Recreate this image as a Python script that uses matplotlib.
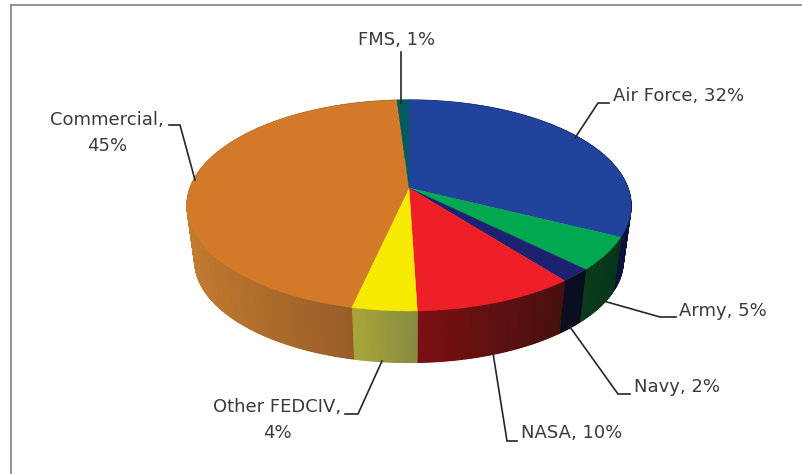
import matplotlib
matplotlib.use('Agg')
import matplotlib.pyplot as plt
import numpy as np
from matplotlib.collections import PolyCollection
from matplotlib.colors import to_rgb

categories = ['Air Force', 'Army', 'Navy', 'NASA', 'Other FEDCIV', 'Commercial', 'FMS']
shares = [32, 5, 2, 10, 4, 45, 1]

top_colors = ['#21439b', '#00a84f', '#1c2270', '#ef1f27', '#f5ea00', '#d27a29', '#05595f']
side_right = ['#0c1238', '#06351a', '#0a0e20', '#47100e', '#878a40', '#8c5526', '#05595f']
side_left = ['#1c2a66', '#0a3d1c', '#0a0e20', '#7c1013', '#a9a638', '#c27a30', '#05595f']

# pie geometry in pixels
APEX_X, APEX_Y = 409, 188
A, B, K = 219, 102.6, 0.166
BOTTOM_SCALE, BOTTOM_Y = 0.965, 243.8


def rim(theta, scale=1.0, cy=APEX_Y):
    # clockwise from twelve o'clock, tilted circle with perspective
    x = np.sin(theta)
    y = -np.cos(theta)
    d = 1 - K * y
    return APEX_X + scale * A * x / d, cy + scale * B * y / d


def mix(c1, c2, t):
    c1, c2 = np.array(to_rgb(c1)), np.array(to_rgb(c2))
    return c1 + (c2 - c1) * t


fig = plt.figure(figsize=(8.02, 4.74), dpi=100)
ax = fig.add_axes([0, 0, 1, 1])
ax.set_xlim(0, 802)
ax.set_ylim(474, 0)
ax.axis('off')

# chart border
ax.plot([11, 11], [474, 5], color='#8a8a8a', lw=1.3)
ax.plot([11, 802], [5, 5], color='#8a8a8a', lw=1.3)

edges = np.cumsum([0] + shares) / sum(shares) * 2 * np.pi

# sides first, the top faces cover the back part
for i in range(len(shares)):
    th = np.linspace(edges[i], edges[i + 1], max(int(shares[i] * 5), 4))
    tx, ty = rim(th)
    bx, by = rim(th, BOTTOM_SCALE, BOTTOM_Y)
    x0, x1 = tx.min(), tx.max()
    # solid base so the seams between the quads do not show
    ax.fill(np.r_[tx, bx[::-1]], np.r_[ty, by[::-1]], color=mix(side_left[i], side_right[i], 0.5),
            lw=0, zorder=2)
    quads = []
    cols = []
    for j in range(len(th) - 1):
        quads.append([(tx[j], ty[j]), (tx[j + 1], ty[j + 1]),
                      (bx[j + 1], by[j + 1]), (bx[j], by[j])])
        cols.append(mix(side_left[i], side_right[i], ((tx[j] + tx[j + 1]) / 2 - x0) / (x1 - x0)))
    ax.add_collection(PolyCollection(quads, facecolors=cols, edgecolors=cols, linewidths=0.8, zorder=2))

for i in range(len(shares)):
    th = np.linspace(edges[i], edges[i + 1], max(int(shares[i] * 6), 6))
    tx, ty = rim(th)
    ax.fill(np.r_[APEX_X, tx], np.r_[APEX_Y, ty], color=top_colors[i], lw=0.3, zorder=3)

# leader lines
leaders = [
    [(575, 138), (598, 103), (609, 103)],
    [(600, 300), (660, 317), (676, 317)],
    [(570, 327), (618, 394), (630, 394)],
    [(493, 353), (507, 441), (517, 441)],
    [(382, 361), (358, 414), (345, 414)],
    [(195, 180), (180, 125), (169, 125)],
    [(400.5, 103), (400.5, 52)],
]
for pts in leaders:
    xs, ys = zip(*pts)
    ax.plot(xs, ys, color='#262626', lw=1.2, zorder=4, solid_joinstyle='miter')

txt = dict(fontsize=13, color='#3a3a3a', family='DejaVu Sans', va='center', zorder=5)
label = [f'{c}, {v}%' for c, v in zip(categories, shares)]
ax.text(613, 96, label[0], ha='left', **txt)
ax.text(679, 311, label[1], ha='left', **txt)
ax.text(634, 387, label[2], ha='left', **txt)
ax.text(521, 433, label[3], ha='left', **txt)
ax.text(277, 407, f'{categories[4]},', ha='center', **txt)
ax.text(277, 433, f'{shares[4]}%', ha='center', **txt)
ax.text(107, 120, f'{categories[5]},', ha='center', **txt)
ax.text(107, 146, f'{shares[5]}%', ha='center', **txt)
ax.text(397, 40, label[6], ha='center', **txt)

fig.savefig('out.png', dpi=100)
